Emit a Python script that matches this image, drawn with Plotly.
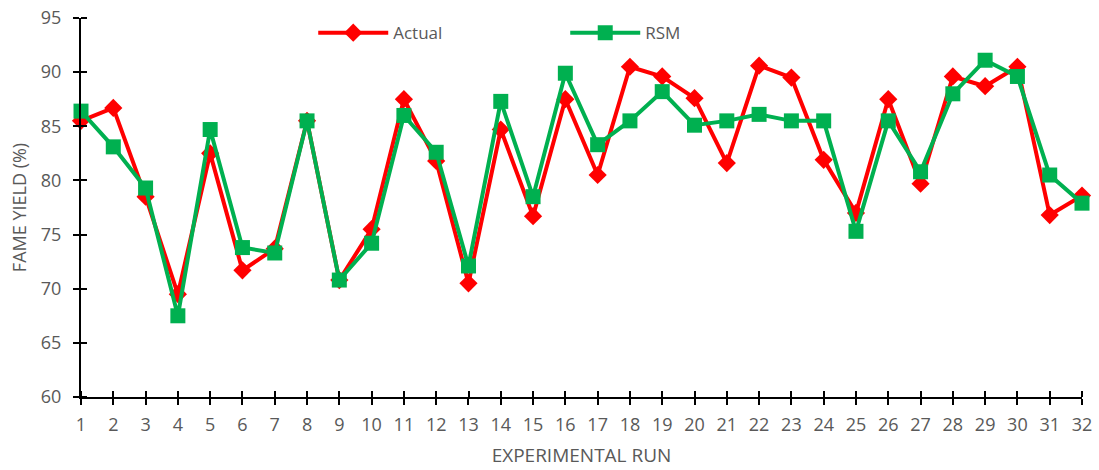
import plotly.graph_objects as go

runs = list(range(1, 33))
actual = [85.5, 86.7, 78.5, 69.5, 82.5, 71.7, 73.7, 85.5, 70.8, 75.5,
          87.5, 81.8, 70.5, 84.7, 76.7, 87.5, 80.5, 90.5, 89.6, 87.6,
          81.6, 90.6, 89.5, 81.9, 77.0, 87.5, 79.7, 89.6, 88.7, 90.5,
          76.8, 78.6]
rsm = [86.4, 83.1, 79.3, 67.5, 84.7, 73.8, 73.3, 85.5, 70.8, 74.2,
       86.0, 82.6, 72.1, 87.3, 78.5, 89.9, 83.3, 85.5, 88.2, 85.1,
       85.5, 86.1, 85.5, 85.5, 75.3, 85.5, 80.8, 88.0, 91.1, 89.6,
       80.5, 77.9]

RED = "#FF0000"
GREEN = "#00B050"
GREY = "#595959"
FONT = "Open Sans"
yvals = list(range(60, 96, 5))

fig = go.Figure()
fig.add_trace(go.Scatter(
    x=runs, y=actual, name="Actual", mode="lines+markers",
    line=dict(color=RED, width=4),
    marker=dict(symbol="diamond", size=14, color=RED),
    cliponaxis=False,
))
fig.add_trace(go.Scatter(
    x=runs, y=rsm, name="RSM", mode="lines+markers",
    line=dict(color=GREEN, width=4),
    marker=dict(symbol="square", size=15, color=GREEN),
    cliponaxis=False,
))

tick_common = dict(ticklen=6, tickwidth=2, tickcolor="black")
# minor ticks sit (almost exactly) on the major ones but point inward,
# so every tick crosses the axis line
x_inner = dict(ticks="inside", tick0=1.0005, dtick=1, showgrid=False, **tick_common)
y_inner = dict(ticks="inside", tick0=60.0005, dtick=5, showgrid=False, **tick_common)

fig.update_layout(
    width=1099, height=470,
    margin=dict(l=81, r=17, t=18, b=73),
    paper_bgcolor="white", plot_bgcolor="white",
    font=dict(family=FONT, color=GREY, size=17),
    showlegend=True,
    legend=dict(orientation="h", x=0.232, y=0.96, xanchor="left", yanchor="middle",
                font=dict(family=FONT, size=17, color=GREY),
                itemwidth=70, entrywidth=167, entrywidthmode="pixels",
                bgcolor="rgba(0,0,0,0)"),
    xaxis=dict(range=[1, 32], showgrid=False, zeroline=False, automargin=False,
               showline=True, linecolor="black", linewidth=2,
               ticks="outside", **tick_common, minor=x_inner,
               tickmode="array", tickvals=runs, ticktext=[str(r) for r in runs],
               tickfont=dict(size=18, color=GREY), ticklabelstandoff=4,
               title=dict(text="EXPERIMENTAL RUN", font=dict(size=19, color=GREY),
                          standoff=14)),
    yaxis=dict(range=[60, 95], showgrid=False, zeroline=False, automargin=False,
               showline=True, linecolor="black", linewidth=2,
               ticks="outside", **tick_common, minor=y_inner,
               tickvals=yvals, tickfont=dict(size=18, color=GREY),
               ticklabelstandoff=8,
               title=dict(text="FAME YIELD (%)", font=dict(size=18, color=GREY),
                          standoff=10)),
)

fig.write_html("out.html")
